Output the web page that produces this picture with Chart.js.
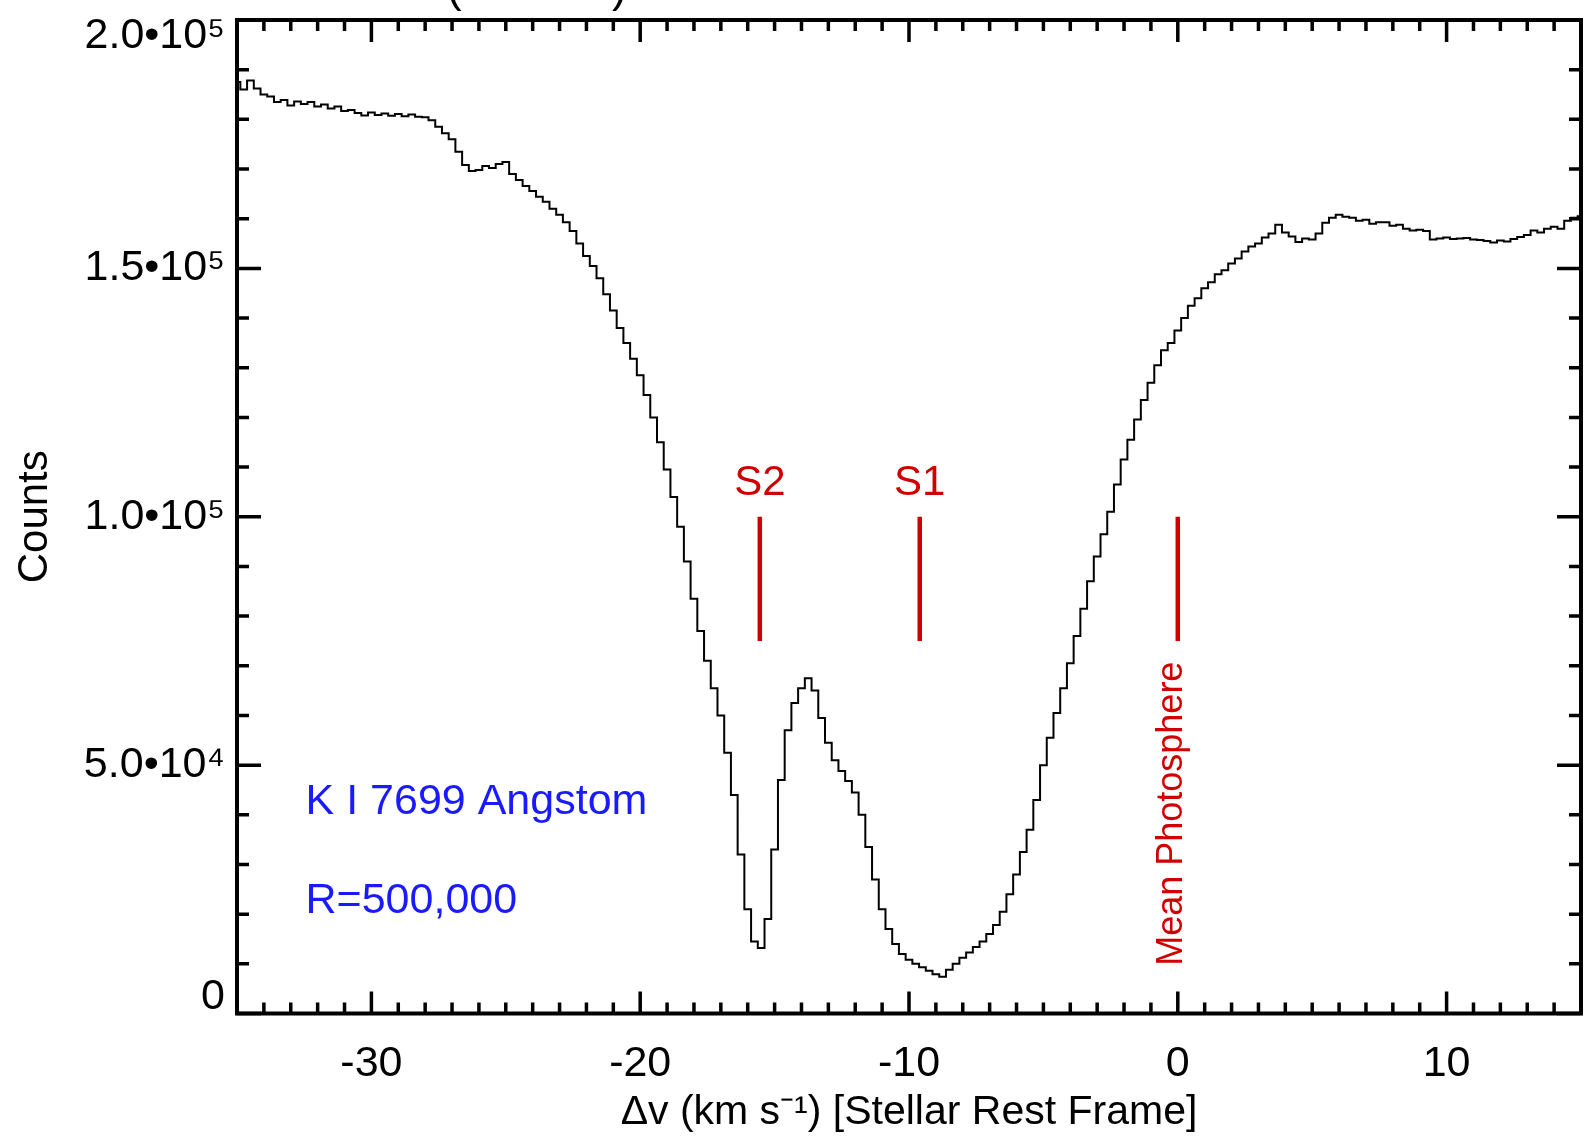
<!DOCTYPE html>
<html>
<head>
<meta charset="utf-8">
<script src="https://cdn.jsdelivr.net/npm/chart.js@4.4.1/dist/chart.umd.min.js"></script>
<style>
  html, body { margin: 0; padding: 0; background: #ffffff; }
  canvas { display: block; }
</style>
</head>
<body>
<canvas id="c" width="1586" height="1144"></canvas>
<script>
// ---------------- DATA ----------------
// Velocity grid of the spectrum bins (km/s, stellar rest frame)
const velStart = -35;
const velStep = 0.25;
// Counts per bin, in thousands, one row per km/s (bins at v, v+0.25, v+0.5, v+0.75)
const countsThousands = [
  187.5, 186.0, 187.8, 186.2,   // -35
  185.0, 184.6, 183.5, 183.9,   // -34
  182.8, 183.6, 183.1, 183.5,   // -33
  182.6, 183.0, 182.2, 182.6,   // -32
  181.7, 181.9, 181.3, 180.8,   // -31
  181.4, 180.9, 181.2, 180.7,   // -30
  181.1, 180.6, 181.0, 180.5,   // -29
  180.4, 179.8, 178.5, 177.2,   // -28
  176.0, 173.5, 170.8, 169.6,   // -27
  169.8, 170.6, 170.2, 171.0,   // -26
  171.4, 169.0, 167.8, 166.6,   // -25
  165.6, 164.4, 163.4, 162.0,   // -24
  160.8, 159.3, 157.5, 155.0,   // -23
  152.5, 150.5, 148.0, 144.8,   // -22
  141.5, 138.0, 135.0, 131.8,   // -21
  128.5, 124.5, 120.0, 115.0,   // -20
  109.5, 104.0,  98.0,  91.0,   // -19
   83.5,  77.0,  71.0,  65.5,   // -18
   60.0,  52.5,  44.0,  32.0,   // -17
   21.0,  14.5,  13.2,  19.0,   // -16
   33.0,  47.0,  57.0,  62.5,   // -15
   65.5,  67.5,  65.0,  59.5,   // -14
   54.5,  51.0,  48.8,  46.8,   // -13
   44.5,  40.0,  33.5,  27.0,   // -12
   21.0,  17.0,  14.0,  12.0,   // -11
   10.8,  10.0,   9.3,   8.6,   // -10
    7.9,   7.4,   8.8,  10.0,   // -9
   11.2,  12.3,  13.4,  14.5,   // -8
   16.0,  17.8,  20.5,  24.0,   // -7
   28.0,  32.5,  37.0,  43.0,   // -6
   50.0,  55.5,  60.5,  65.5,   // -5
   70.5,  76.0,  81.5,  87.0,   // -4
   92.0,  96.5, 101.0, 106.5,   // -3
  111.5, 115.5, 119.6, 123.5,   // -2
  127.0, 130.5, 133.5, 135.0,   // -1
  137.5, 140.0, 142.5, 144.0,   // 0
  146.0, 147.2, 148.8, 149.6,   // 1
  151.0, 152.0, 153.4, 154.4,   // 2
  155.0, 156.2, 157.0, 158.8,   // 3
  157.2, 156.4, 155.3, 156.0,   // 4
  155.8, 157.0, 159.2, 160.2,   // 5
  160.8, 160.4, 160.2, 159.6,   // 6
  159.8, 159.0, 159.3, 159.3,   // 7
  158.6, 158.8, 158.0, 157.6,   // 8
  157.8, 157.5, 155.8, 156.0,   // 9
  156.2, 155.9, 156.0, 156.1,   // 10
  155.8, 155.7, 155.5, 155.2,   // 11
  155.6, 155.4, 155.9, 156.3,   // 12
  156.7, 157.6, 157.2, 158.0,   // 13
  158.4, 158.0, 159.6, 160.2,   // 14
  160.5                          // 15
];

// Component markers
const markerNames      = ['S2', 'S1', 'Mean Photosphere'];
const markerVelocities = [-15.55, -9.6, 0];
const markerLow  = 75000;
const markerHigh = 100000;

// Axes
const xMin = -35, xMax = 15;
const yMin = 0, yMax = 200000;
const xTickValues = [-30, -20, -10, 0, 10];
const xTickLabels = ['-30', '-20', '-10', '0', '10'];
const yTickValues = [0, 50000, 100000, 150000, 200000];
const yTickLabels = ['0', '5.0\u202210\u2074', '1.0\u202210\u2075', '1.5\u202210\u2075', '2.0\u202210\u2075'];
const xMinorStep = 1;
const yMinorStep = 10000;

// Annotations
const lineLabel = 'K I 7699 Angstom';
const resolutionLabel = 'R=500,000';
const xTitle = '\u0394v (km s\u207B\u00B9) [Stellar Rest Frame]';
const yTitle = 'Counts';

// ---------------- STYLE ----------------
const FONT = '"Liberation Sans", Arial, sans-serif';
const RED = '#d00000';
const BLUE = '#1a1aff';
Chart.defaults.font.family = FONT;
Chart.defaults.color = '#000';

const spectrum = countsThousands.map((c, i) => ({ x: velStart + i * velStep, y: c * 1000 }));

const markerSets = markerVelocities.map(v => ({
  data: [{ x: v, y: markerLow }, { x: v, y: markerHigh }],
  borderColor: RED,
  borderWidth: 4.5,
  pointRadius: 0,
  borderCapStyle: 'butt',
  tension: 0
}));

const decorPlugin = {
  id: 'decor',
  afterDatasetsDraw(chart) {
    const { ctx, chartArea: { left, right, top, bottom }, scales: { x, y } } = chart;
    ctx.save();
    // ticks, inward on all four sides
    ctx.strokeStyle = '#000';
    ctx.lineWidth = 3.5;
    ctx.lineCap = 'butt';
    ctx.beginPath();
    const nx = Math.round((xMax - xMin) / xMinorStep);
    for (let i = 0; i <= nx; i++) {
      const v = xMin + i * xMinorStep;
      const px = x.getPixelForValue(v);
      const len = xTickValues.includes(v) ? 22 : 11;
      ctx.moveTo(px, bottom); ctx.lineTo(px, bottom - len);
      ctx.moveTo(px, top); ctx.lineTo(px, top + len);
    }
    const ny = Math.round((yMax - yMin) / yMinorStep);
    for (let i = 0; i <= ny; i++) {
      const v = yMin + i * yMinorStep;
      const py = y.getPixelForValue(v);
      const len = yTickValues.includes(v) ? 24 : 12;
      ctx.moveTo(left, py); ctx.lineTo(left + len, py);
      ctx.moveTo(right, py); ctx.lineTo(right - len, py);
    }
    ctx.stroke();
    // frame
    ctx.lineWidth = 4;
    ctx.strokeRect(left, top, right - left, bottom - top);

    // component labels
    ctx.fillStyle = RED;
    ctx.font = '42px ' + FONT;
    ctx.textAlign = 'center';
    ctx.textBaseline = 'alphabetic';
    for (let i = 0; i < 2; i++) {
      ctx.fillText(markerNames[i], x.getPixelForValue(markerVelocities[i]), y.getPixelForValue(104300));
    }
    ctx.save();
    ctx.translate(x.getPixelForValue(markerVelocities[2] + 0.15), y.getPixelForValue(9600));
    ctx.rotate(-Math.PI / 2);
    ctx.font = '36px ' + FONT;
    ctx.textAlign = 'left';
    ctx.fillText(markerNames[2], 0, 0);
    ctx.restore();

    // blue annotations
    ctx.fillStyle = BLUE;
    ctx.font = '43px ' + FONT;
    ctx.textAlign = 'left';
    ctx.fillText(lineLabel, x.getPixelForValue(-32.45), y.getPixelForValue(40100));
    ctx.fillText(resolutionLabel, x.getPixelForValue(-32.45), y.getPixelForValue(20200));

    // cut-off title parentheses above the frame
    ctx.fillStyle = '#000';
    ctx.font = '44px ' + FONT;
    ctx.fillText('(', 447, 2);
    ctx.fillText(')', 612, 2);
    ctx.restore();
  }
};

new Chart(document.getElementById('c'), {
  type: 'line',
  data: {
    datasets: [{
      data: spectrum,
      borderColor: '#000',
      borderWidth: 2,
      pointRadius: 0,
      stepped: 'middle',
      fill: false
    }, ...markerSets]
  },
  options: {
    responsive: false,
    animation: false,
    events: [],
    layout: { padding: { left: 0, right: 5, top: 20, bottom: 0 } },
    plugins: { legend: { display: false }, tooltip: { enabled: false }, title: { display: false } },
    scales: {
      x: {
        type: 'linear',
        min: xMin, max: xMax,
        grid: { display: false, drawTicks: false },
        border: { display: false },
        afterBuildTicks: (axis) => { axis.ticks = xTickValues.map(v => ({ value: v })); },
        ticks: {
          autoSkip: false, maxRotation: 0, minRotation: 0,
          padding: 25,
          color: '#000',
          font: { size: 43, family: FONT },
          callback: (v) => xTickLabels[xTickValues.indexOf(v)]
        },
        title: { display: true, text: xTitle, color: '#000', font: { size: 41, family: FONT }, padding: { top: 0, bottom: 7 } },
        afterFit: (s) => { s.height = 130.5; s.paddingLeft = 0; s.paddingRight = 0; }
      },
      y: {
        type: 'linear',
        min: yMin, max: yMax,
        grid: { display: false, drawTicks: false },
        border: { display: false },
        afterBuildTicks: (axis) => { axis.ticks = yTickValues.map(v => ({ value: v })); },
        ticks: {
          autoSkip: false,
          padding: 12,
          color: '#000',
          font: { size: 43, family: FONT, lineHeight: 0.74 },
          callback: (v) => {
            const i = yTickValues.indexOf(v);
            const t = yTickLabels[i];
            if (i === yTickValues.length - 1) return ['', t];
            if (i === 0) return [t, ''];
            return t;
          }
        },
        title: { display: true, text: yTitle, color: '#000', font: { size: 42, family: FONT }, padding: { top: 10, bottom: 0 } },
        afterFit: (s) => { s.width = 237; s.paddingTop = 0; s.paddingBottom = 0; }
      }
    }
  },
  plugins: [decorPlugin]
});
</script>
</body>
</html>
